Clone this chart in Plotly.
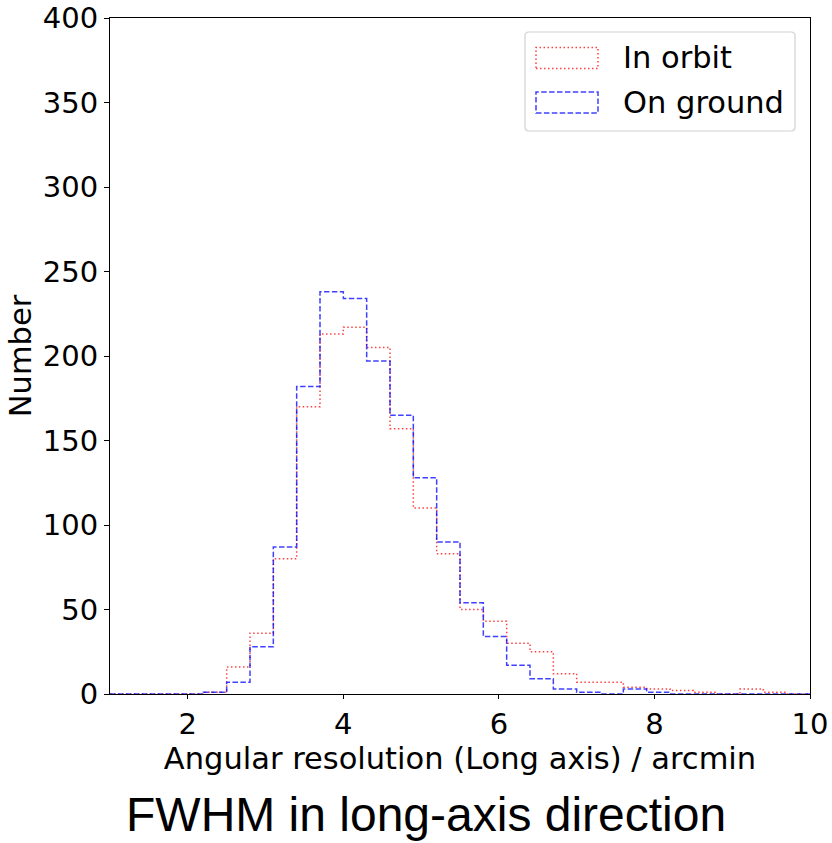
import plotly.graph_objects as go

# histogram bin edges (arcmin) and counts
bin_edges = [1.0, 1.3, 1.6, 1.9, 2.2, 2.5, 2.8, 3.1, 3.4, 3.7, 4.0,
             4.3, 4.6, 4.9, 5.2, 5.5, 5.8, 6.1, 6.4, 6.7, 7.0,
             7.3, 7.6, 7.9, 8.2, 8.5, 8.8, 9.1, 9.4, 9.7, 10.0]
in_orbit = [0, 0, 0, 0, 1, 16, 36, 80, 170, 213, 217, 205, 157, 110, 83,
            50, 43, 30, 25, 12, 7, 7, 4, 3, 2, 1, 0, 3, 1, 0]
on_ground = [0, 0, 0, 0, 1, 7, 28, 87, 182, 238, 234, 197, 165, 128, 90,
             54, 34, 17, 9, 3, 1, 0, 3, 1, 0, 0, 0, 0, 0, 0]

series_names = ["In orbit", "On ground"]
x_ticks = [2, 4, 6, 8, 10]
y_ticks = [0, 50, 100, 150, 200, 250, 300, 350, 400]

RED = "rgba(255,0,0,0.75)"
BLUE = "rgba(0,0,255,0.75)"
RED_DASH = "1.5px,2.5px"
BLUE_DASH = "5.5px,2.4px"
FONT = "DejaVu Sans"

W, H = 832, 843
L, R, T, B = 110, 22, 18, 149
PW, PH = W - L - R, H - T - B


def px(x):
    return (x - L) / PW


def py(y):
    return (H - B - y) / PH


fig = go.Figure()
for counts, color, dash, name in [(in_orbit, RED, RED_DASH, series_names[0]),
                                  (on_ground, BLUE, BLUE_DASH, series_names[1])]:
    fig.add_trace(go.Scatter(
        x=bin_edges, y=counts + [counts[-1]], mode="lines", name=name,
        line=dict(shape="hv", color=color, width=1.5, dash=dash),
        showlegend=False, hoverinfo="x+y"))

# legend drawn by hand to look like matplotlib patches
x0, x1, y0, y1 = px(525), px(795), py(131), py(32)
rx, ry = 4 / PW, 4 / PH
box = (f"M{x0+rx},{y0} L{x1-rx},{y0} Q{x1},{y0} {x1},{y0+ry} "
       f"L{x1},{y1-ry} Q{x1},{y1} {x1-rx},{y1} L{x0+rx},{y1} "
       f"Q{x0},{y1} {x0},{y1-ry} L{x0},{y0+ry} Q{x0},{y0} {x0+rx},{y0} Z")
shapes = [dict(type="path", path=box, xref="paper", yref="paper",
               line=dict(color="rgba(204,204,204,0.9)", width=1.2),
               fillcolor="rgba(255,255,255,0.8)")]
annotations = []
for cy, color, dash, name in [(58, RED, RED_DASH, series_names[0]),
                              (102.5, BLUE, BLUE_DASH, series_names[1])]:
    shapes.append(dict(type="rect", xref="paper", yref="paper",
                       x0=px(536), x1=px(598), y0=py(cy + 10.5), y1=py(cy - 10.5),
                       line=dict(color=color, width=1.5, dash=dash)))
    annotations.append(dict(text=name, xref="paper", yref="paper",
                            x=px(621), y=py(cy), xanchor="left", yanchor="middle",
                            showarrow=False, font=dict(family=FONT, size=30.5, color="black")))

annotations.append(dict(text="FWHM in long-axis direction", xref="paper", yref="paper",
                        x=px(425.5), y=py(814), xanchor="center", yanchor="middle",
                        showarrow=False,
                        font=dict(family="Liberation Sans", size=48, color="black")))

axis_common = dict(showline=True, linecolor="black", linewidth=1.2, mirror=True,
                   ticks="outside", tickwidth=1.2, tickcolor="black",
                   showgrid=False, zeroline=False, automargin=False,
                   tickfont=dict(family=FONT, size=29, color="black"))

fig.update_layout(
    width=W, height=H,
    margin=dict(l=L, r=R, t=T, b=B),
    paper_bgcolor="white", plot_bgcolor="white",
    xaxis=dict(range=[1, 10], tickvals=x_ticks, ticklen=4,
               title=dict(text="Angular resolution (Long axis) / arcmin", standoff=0,
                          font=dict(family=FONT, size=30.5, color="black")),
               **axis_common),
    yaxis=dict(range=[0, 400], tickvals=y_ticks, ticklen=5,
               title=dict(text="Number", standoff=2,
                          font=dict(family=FONT, size=30.5, color="black")),
               **axis_common),
    shapes=shapes,
    annotations=annotations,
)

fig.write_html("out.html", config={"displayModeBar": False},
               post_script="document.body.style.margin='0px';")
